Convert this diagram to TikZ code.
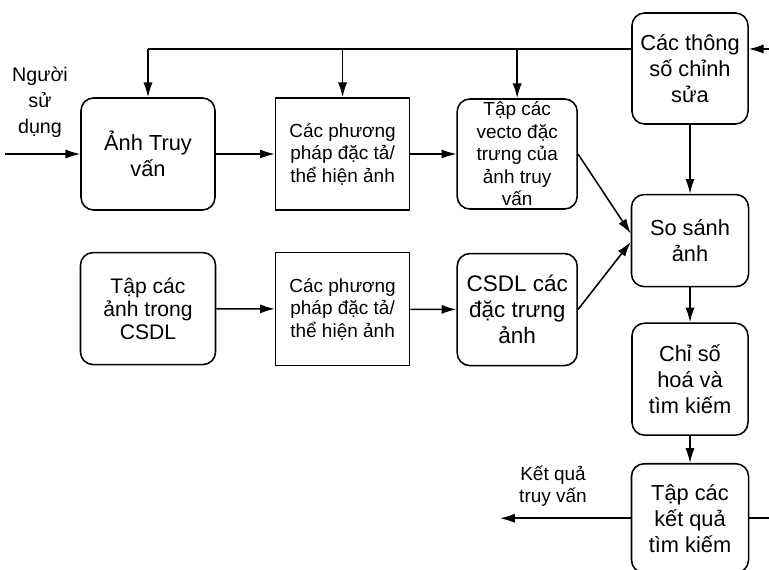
\documentclass[tikz,border=0pt]{standalone}
\usepackage{fontspec}
\setmainfont{Liberation Sans}
\usetikzlibrary{arrows.meta,positioning}

\begin{document}
\begin{tikzpicture}[x=0.025cm,y=-0.025cm,>={Latex[length=10.5pt,width=6.5pt]},line width=1.1pt,
    blk/.style={draw,line width=1.1pt,align=center,inner sep=1pt},
    rblk/.style={blk,rounded corners=9pt},
    big/.style={font=\fontsize{15.5}{18.5}\selectfont},
    small/.style={font=\fontsize{13.5}{16}\selectfont}]
    \useasboundingbox (0,0) rectangle (769,570);
    % query row
    \node[rblk,big,minimum width=3.35cm,minimum height=2.8cm] (query) at (148,154) {Ảnh Truy\\vấn};
    \node[blk,small,minimum width=3.35cm,minimum height=2.8cm,right=1.475cm of query] (desc1) {Các phương\\pháp đặc tả/\\thể hiện ảnh};
    \node[rblk,small,minimum width=3cm,minimum height=2.75cm,right=1.15cm of desc1] (qvec) {Tập các\\vecto đặc\\trưng của\\ảnh truy\\vấn};
    % database row
    \node[rblk,font=\fontsize{15}{16.5}\selectfont,minimum width=3.375cm,minimum height=2.8cm,below=1.025cm of query] (imgs) {Tập các\\ảnh trong\\CSDL};
    \node[blk,small,minimum width=3.35cm,minimum height=2.825cm,below=1.025cm of desc1] (desc2) {Các phương\\pháp đặc tả/\\thể hiện ảnh};
    \node[rblk,font=\fontsize{16}{18.4}\selectfont,minimum width=3cm,minimum height=2.8cm,below=1.075cm of qvec] (feat) {CSDL các\\đặc trưng\\ảnh};
    % right column
    \node[rblk,big,minimum width=2.9cm,minimum height=2.775cm] (param) at (690,68.5) {Các thông\\số chỉnh\\sửa};
    \node[rblk,big,minimum width=2.925cm,minimum height=2.3cm,below=1.725cm of param] (cmp) {So sánh\\ảnh};
    \node[rblk,big,minimum width=2.9cm,minimum height=2.8cm,below=0.875cm of cmp] (index) {Chỉ số\\hoá và\\tìm kiếm};
    \node[rblk,big,minimum width=2.925cm,minimum height=2.725cm,below=0.675cm of index] (result) {Tập các\\kết quả\\tìm kiếm};
    % labels and free ends
    \node[font=\fontsize{14}{18.4}\selectfont,align=center] (user) at (40,102) {Người\\sử\\dụng};
    \node[font=\fontsize{13.5}{16}\selectfont,align=center] (out) at (553,486) {Kết quả\\truy vấn};
    \coordinate (in) at (5,154);
    \coordinate (outend) at (500,0);
    \coordinate (fb) at (0,49);
    \coordinate (edge) at (769,0);

    \draw[->] (in) -- (query.west);
    \draw[->] (query) -- (desc1);
    \draw[->] (desc1) -- (qvec);
    \draw[->] (imgs) -- (desc2);
    \draw[->] (desc2) -- (feat);
    \draw[->] (qvec.east) -- ([yshift=5pt]cmp.west);
    \draw[->] (feat.east) -- ([yshift=-1pt]cmp.west);
    \draw[->] (param) -- (cmp);
    \draw[->] (cmp) -- (index);
    \draw[->] (index) -- (result);
    \draw[->] (result.west) -- (outend |- result.west);
    % feedback from the parameters
    \draw (param.west |- fb) -- (query.north |- fb);
    \foreach \n in {query,desc1,qvec}
        \draw[->] (\n.north |- fb) -- (\n.north);
    \draw[->] (edge |- fb) -- (param.east |- fb);
    \draw (result.east) -- (edge |- result.east);
\end{tikzpicture}
\end{document}
